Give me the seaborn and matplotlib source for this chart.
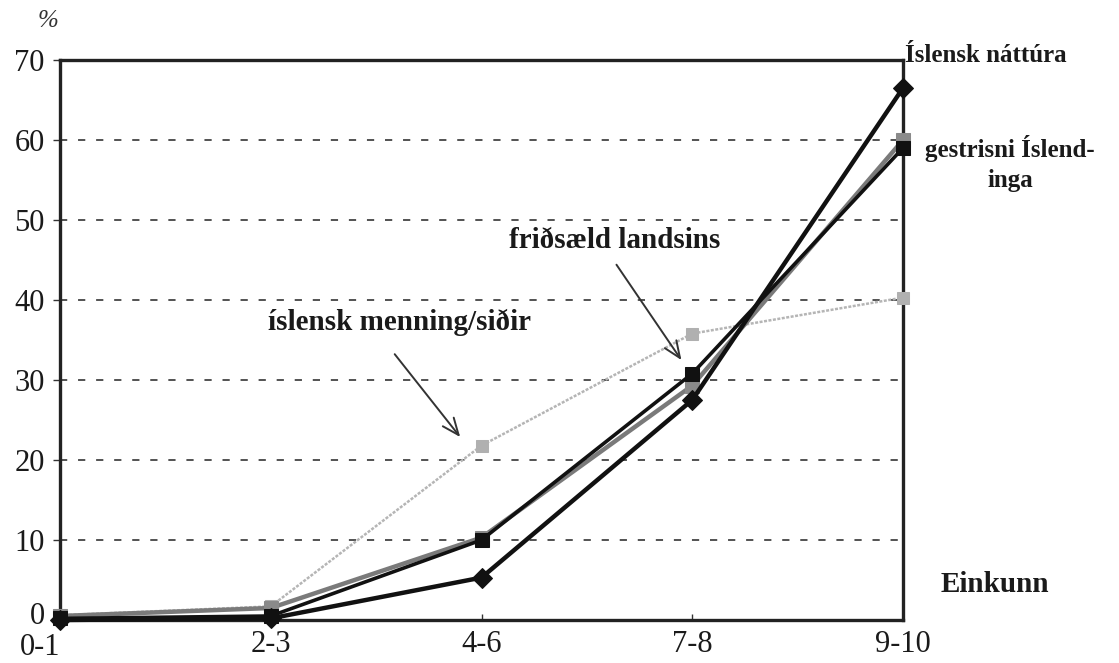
import matplotlib
matplotlib.use("Agg")
import matplotlib.pyplot as plt
import matplotlib.transforms as mtransforms
import seaborn as sns
import pandas as pd

categories = ["0-1", "2-3", "4-6", "7-8", "9-10"]
nattura = [0.0, 0.2, 5.3, 27.5, 66.5]
fridsaeld = [0.2, 0.5, 10.0, 30.8, 59.0]
gestrisni = [0.5, 1.5, 10.3, 29.3, 60.0]
menning = [0.6, 1.7, 21.8, 35.8, 40.3]
yticks = [0, 10, 20, 30, 40, 50, 60, 70]

sns.set_style("white")
plt.rcParams["font.family"] = ["Liberation Serif", "DejaVu Serif"]

fig = plt.figure(figsize=(11.19, 6.63), dpi=100)
ax = fig.add_axes([60 / 1119, 1 - 620 / 663, (903 - 60) / 1119, (620 - 60) / 663])

xpos = list(range(len(categories)))
series = [
    (menning, "#b5b5b5", 1.8, (0, (1.2, 0.6)), "s", 9, "#b0b0b0"),
    (gestrisni, "#7a7a7a", 3.2, "-", "s", 10, "#8a8a8a"),
    (fridsaeld, "#111111", 2.6, "-", "s", 10, "#111111"),
    (nattura, "#111111", 3.2, "-", "D", 10, "#111111"),
]
for vals, col, lw, ls, mk, ms, mcol in series:
    df = pd.DataFrame({"x": xpos, "y": vals})
    sns.lineplot(data=df, x="x", y="y", ax=ax, color=col, linewidth=lw,
                 linestyle=ls, marker=mk, markersize=ms, markerfacecolor=mcol,
                 markeredgecolor=mcol, clip_on=False, zorder=3)

ax.set_xlim(0, 4)
ax.set_ylim(0, 70)
ax.set_yticks(yticks)
ax.set_yticklabels([str(v) for v in yticks])
ax.set_xticks(xpos)
ax.set_xticklabels(categories)
ax.set_xlabel("")
ax.set_ylabel("")
for v in yticks[1:-1]:
    ax.axhline(v, color="#444444", linestyle=(0, (4, 6)), linewidth=1.3, zorder=1)
for sp in ax.spines.values():
    sp.set_color("#222222")
    sp.set_linewidth(2.4)
    sp.set_visible(True)
ax.tick_params(axis="y", labelsize=22, length=5, width=1, direction="out", pad=6, color="#333333")
ax.tick_params(axis="x", labelsize=22, length=4, width=1, direction="in", pad=7, color="#333333")
ax.tick_params(axis="both", left=True, bottom=True)
for lab in ax.get_yticklabels():
    lab.set_color("#1a1a1a")
for lab in ax.get_xticklabels():
    lab.set_color("#1a1a1a")
first = ax.get_xticklabels()[0]
first.set_transform(first.get_transform() + mtransforms.ScaledTranslation(-0.2, -0.03, fig.dpi_scale_trans))
zero = ax.get_yticklabels()[0]
zero.set_transform(zero.get_transform() + mtransforms.ScaledTranslation(0.0, 0.07, fig.dpi_scale_trans))

tfont = dict(fontweight="bold", color="#1a1a1a")
fig.text(905 / 1119, 1 - 55 / 663, "Íslensk náttúra", ha="left", va="center", fontsize=18, **tfont)
fig.text(1010 / 1119, 1 - 148 / 663, "gestrisni Íslend-", ha="center", va="center", fontsize=18, **tfont)
fig.text(1010 / 1119, 1 - 181 / 663, "inga", ha="center", va="center", fontsize=18, **tfont)
fig.text(615 / 1119, 1 - 240 / 663, "friðsæld landsins", ha="center", va="center", fontsize=21, **tfont)
fig.text(400 / 1119, 1 - 322 / 663, "íslensk menning/siðir", ha="center", va="center", fontsize=21, **tfont)
fig.text(995 / 1119, 1 - 585 / 663, "Einkunn", ha="center", va="center", fontsize=21, **tfont)
fig.text(48 / 1119, 1 - 21 / 663, "%", ha="center", va="center", fontsize=18,
         fontstyle="italic", color="#333333")

arrow = dict(arrowstyle="->,head_length=1.2,head_width=0.5", color="#333333", lw=1.4)
ax.annotate("", xy=(2.956, 32.2), xytext=(2.633, 44.7), arrowprops=arrow, zorder=5)
ax.annotate("", xy=(1.907, 22.6), xytext=(1.58, 33.5), arrowprops=arrow, zorder=5)

fig.savefig("out.png", dpi=100, facecolor="white")
